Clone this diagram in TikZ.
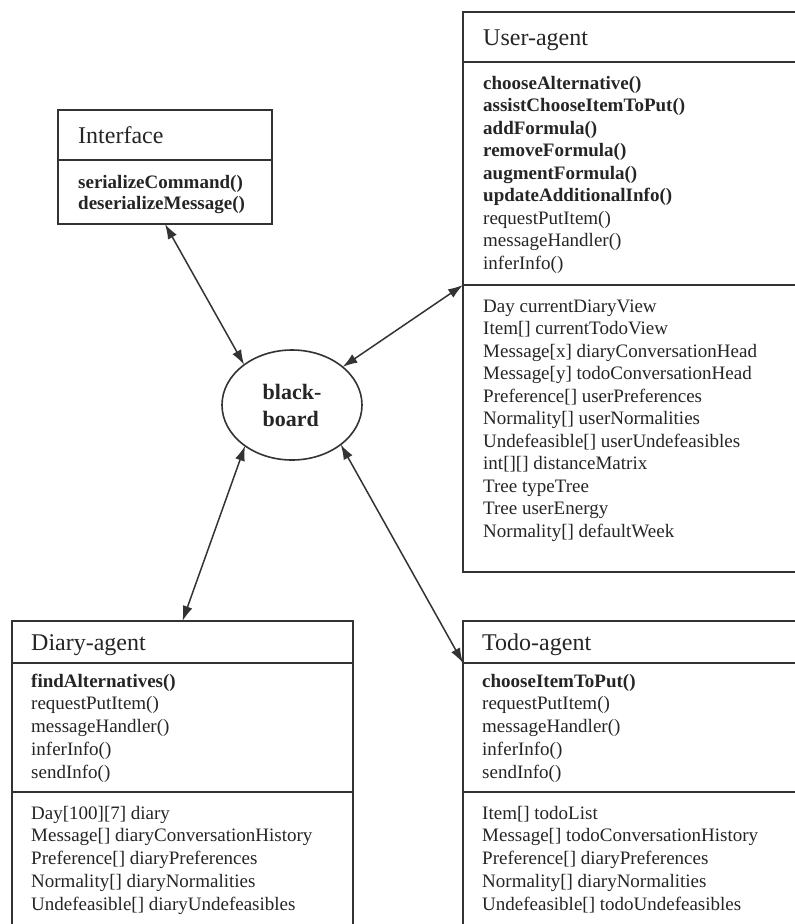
\documentclass[tikz,border=0pt]{standalone}
\usepackage{fontspec}
\setmainfont{Liberation Serif}
\usetikzlibrary{arrows.meta,shapes.geometric}
\definecolor{inkc}{HTML}{252525}
\definecolor{linec}{HTML}{333333}
\begin{document}
\begin{tikzpicture}[x=1pt,y=-1pt,
  comp/.style={draw=linec,line width=1.7pt,inner sep=0pt,outer sep=0pt,anchor=north west},
  row/.style={anchor=base west,inner sep=0pt,text=inkc,font=\fontsize{19}{22}\selectfont},
  headtxt/.style={anchor=base west,inner sep=0pt,text=inkc,font=\fontsize{24}{28}\selectfont},
  conn/.style={draw=linec,line width=1.5pt,arrows={Latex[length=15pt,width=10pt]-Latex[length=15pt,width=10pt]}}
]
\useasboundingbox (0,0) rectangle (795,924);
\fill[white] (0,0) rectangle (795,924);
\clip (0,0) rectangle (795,924);

% Interface
\node[comp,minimum width=214pt,minimum height=50pt] (ihead) at (58,110) {};
\node[comp,minimum width=214pt,minimum height=64pt] (imeth) at (58,160) {};
\node[headtxt] (itit) at (78,143) {Interface};
\foreach \t [count=\i from 0] in {\textbf{serializeCommand()},\textbf{deserializeMessage()}}
  \node[row] (im\i) at (78,188+\i*21.5) {\t};

% User-agent
\node[comp,minimum width=350pt,minimum height=50pt] (uhead) at (463,12) {};
\node[comp,minimum width=350pt,minimum height=223pt] (umeth) at (463,62) {};
\node[comp,minimum width=350pt,minimum height=287pt] (uattr) at (463,285) {};
\node[headtxt] (utit) at (483,45) {User-agent};
\foreach \t [count=\i from 0] in {\textbf{chooseAlternative()},\textbf{assistChooseItemToPut()},\textbf{addFormula()},\textbf{removeFormula()},\textbf{augmentFormula()},\textbf{updateAdditionalInfo()},requestPutItem(),messageHandler(),inferInfo()}
  \node[row] (um\i) at (483,89+\i*22.5) {\t};
\foreach \t [count=\i from 0] in {Day currentDiaryView,Item[] currentTodoView,Message[x] diaryConversationHead,Message[y] todoConversationHead,Preference[] userPreferences,Normality[] userNormalities,Undefeasible[] userUndefeasibles,int[][] distanceMatrix,Tree typeTree,Tree userEnergy,Normality[] defaultWeek}
  \node[row] (ua\i) at (483,312+\i*22.5) {\t};

% Diary-agent
\node[comp,minimum width=341pt,minimum height=42pt] (dhead) at (12,621) {};
\node[comp,minimum width=341pt,minimum height=129pt] (dmeth) at (12,663) {};
\node[comp,minimum width=341pt,minimum height=160pt] (dattr) at (12,792) {};
\node[headtxt] (dtit) at (31,650) {Diary-agent};
\foreach \t [count=\i from 0] in {\textbf{findAlternatives()},requestPutItem(),messageHandler(),inferInfo(),sendInfo()}
  \node[row] (dm\i) at (31,687+\i*22.75) {\t};
\foreach \t [count=\i from 0] in {Day[100][7] diary,Message[] diaryConversationHistory,Preference[] diaryPreferences,Normality[] diaryNormalities,Undefeasible[] diaryUndefeasibles}
  \node[row] (da\i) at (31,819+\i*22.75) {\t};

% Todo-agent
\node[comp,minimum width=350pt,minimum height=42pt] (thead) at (463,621) {};
\node[comp,minimum width=350pt,minimum height=129pt] (tmeth) at (463,663) {};
\node[comp,minimum width=350pt,minimum height=160pt] (tattr) at (463,792) {};
\node[headtxt] (ttit) at (482,650) {Todo-agent};
\foreach \t [count=\i from 0] in {\textbf{chooseItemToPut()},requestPutItem(),messageHandler(),inferInfo(),sendInfo()}
  \node[row] (tm\i) at (482,687+\i*22.75) {\t};
\foreach \t [count=\i from 0] in {Item[] todoList,Message[] todoConversationHistory,Preference[] diaryPreferences,Normality[] diaryNormalities,Undefeasible[] todoUndefeasibles}
  \node[row] (ta\i) at (482,819+\i*22.75) {\t};

% blackboard
\node[ellipse,draw=linec,line width=1.6pt,minimum width=140pt,minimum height=110pt,inner sep=0pt,outer sep=0pt,align=left,text=inkc,font=\bfseries\fontsize{22}{27}\selectfont] (bb) at (292,405) {black-\\board};

% connectors
\draw[conn] (imeth.south) -- (bb.140);
\draw[conn] (bb.37) -- (umeth.south west);
\draw[conn] (bb.221) -- (dhead.north);
\draw[conn] (bb.321) -- (thead.south west);
\end{tikzpicture}
\end{document}
